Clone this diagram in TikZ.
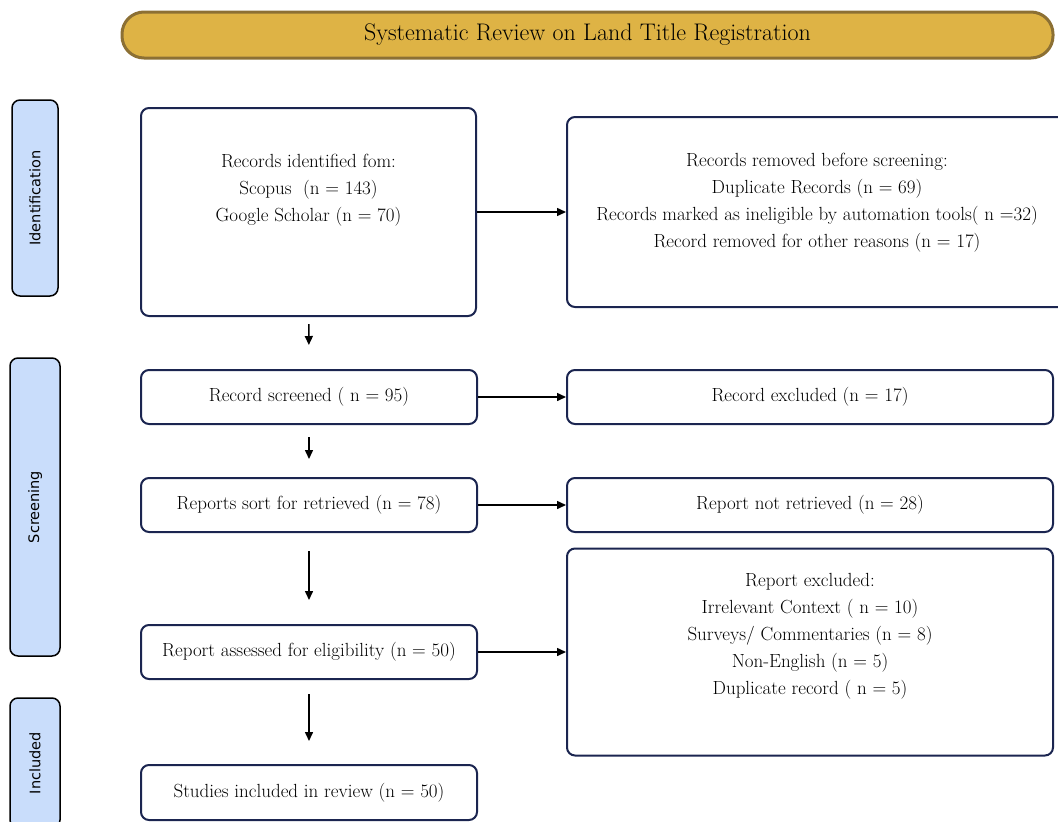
\documentclass[tikz,border=0pt]{standalone}
\usepackage{fontspec}
\newfontfamily\phasefont{DejaVu Sans}
\usetikzlibrary{arrows.meta}
\definecolor{gold}{HTML}{DEB345}
\definecolor{golddark}{HTML}{8C7034}
\definecolor{phaseblue}{HTML}{C9DDFB}
\definecolor{navy}{HTML}{1B2550}
\tikzset{
  box/.style={draw=navy, line width=2pt, rounded corners=8pt, align=center,
    font=\fontsize{19}{27}\selectfont},
  phase/.style={draw=black, line width=1.5pt, fill=phaseblue, rounded corners=8pt,
    rotate=90, font=\phasefont\fontsize{14.5}{18}\selectfont},
  banner/.style={draw=golddark, line width=3pt, fill=gold, rounded corners=22pt,
    font=\fontsize{24}{28}\selectfont}
}
\begin{document}
\begin{tikzpicture}[x=1pt,y=-1pt,>={Triangle[length=9pt,width=8pt]}]
  \useasboundingbox (0,0) rectangle (1058,822);
  \node[banner, minimum width=931pt, minimum height=46pt] (title) at (587.5,35) {Systematic Review on Land Title Registration};
  \node[phase, minimum width=196pt, minimum height=46pt] (idf) at (35,198) {Identification};
  \node[phase, minimum width=298pt, minimum height=50pt] (scr) at (35,507) {Screening};
  \node[phase, minimum width=130pt, minimum height=50pt] (inc) at (35,763) {Included};
  \node[box, minimum width=335pt, minimum height=208pt] (id) at (308.5,212)
    {Records identified fom:\\ Scopus\ \ (n = 143)\\ Google Scholar (n = 70)\\[22pt]\mbox{}};
  \node[box, minimum width=500pt, minimum height=190pt] (rm) at (817,212)
    {Records removed before screening:\\ Duplicate Records (n = 69)\\
     Records marked as ineligible by automation tools( n =32)\\
     Record removed for other reasons (n = 17)\\[-4pt]\mbox{}};
  \node[box, minimum width=336pt, minimum height=54pt] (sc) at (309,397) {Record screened ( n = 95)};
  \node[box, minimum width=486pt, minimum height=54pt] (ex) at (810,397) {Record excluded (n = 17)};
  \node[box, minimum width=336pt, minimum height=54pt] (rt) at (309,505) {Reports sort for retrieved (n = 78)};
  \node[box, minimum width=486pt, minimum height=54pt] (nr) at (810,505) {Report not retrieved (n = 28)};
  \node[box, minimum width=336pt, minimum height=54pt] (el) at (309,652) {Report assessed for eligibility (n = 50)};
  \node[box, minimum width=486pt, minimum height=207pt] (rx) at (810,652)
    {Report excluded:\\ Irrelevant Context ( n = 10)\\ Surveys/ Commentaries (n = 8)\\
     Non-English (n = 5)\\ Duplicate record ( n = 5)\\[10pt]\mbox{}};
  \node[box, minimum width=336pt, minimum height=55pt] (in) at (309,792.5) {\raisebox{-7pt}{Studies included in review (n = 50)}};
  \begin{scope}[->, line width=1.5pt]
    \draw[shorten <=7pt, shorten >=24pt] (id) to (sc);
    \draw[shorten <=12pt, shorten >=18pt] (sc) to (rt);
    \draw[shorten <=18pt, shorten >=24pt] (rt) to (el);
    \draw[shorten <=14pt, shorten >=23pt] (el) to (in);
    \draw (id) to (rm);
    \draw (sc) to (ex);
    \draw (rt) to (nr);
    \draw (el) to (rx);
  \end{scope}
\end{tikzpicture}
\end{document}
